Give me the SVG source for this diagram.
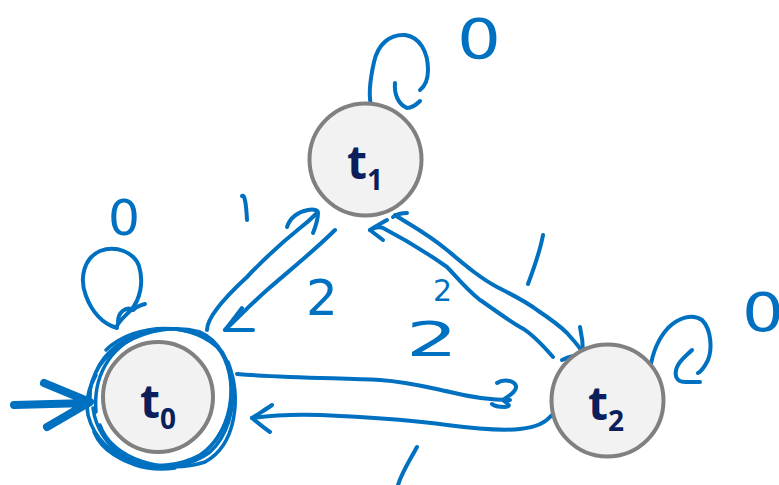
<svg xmlns="http://www.w3.org/2000/svg" width="779" height="485" viewBox="0 0 779 485">
  <style>
    .node { fill: #f2f2f2; stroke: #808080; stroke-width: 4; }
    .name { fill: #0b1f5c; font-family: "Open Sans", "Liberation Sans", sans-serif; font-weight: bold; }
    .ink { fill: none; stroke: #0070c0; stroke-width: 4; stroke-linecap: round; stroke-linejoin: round; }
    .scrib { fill: none; stroke: #0070c0; stroke-width: 3.5; stroke-linecap: round; }
    .lbl { fill: #0070c0; font-family: "DejaVu Sans", "Liberation Sans", sans-serif; }
  </style>
  <rect width="779" height="485" fill="#ffffff"/>

  <!-- hand-drawn connectors and loops -->
  <g id="connectors">
    <!-- start arrow into t0 -->
    <path class="ink" style="stroke-width:8" d="M14 405 L88 403 M44 383 L90 402 L47 427"/>

    <!-- accepting-state scribble around t0 -->
    <path class="scrib" d="M96 372 C112 332 175 315 212 342 C240 365 238 430 200 455 C158 478 100 462 88 415 C85 398 90 385 96 375"/>
    <path class="scrib" d="M90 398 C88 352 150 318 200 332 C238 348 245 420 210 452 C175 478 110 470 94 432"/>
    <path class="scrib" d="M106 350 C135 322 195 320 222 352 C242 385 232 440 190 462 C140 480 98 448 93 408"/>
    <path class="scrib" d="M100 425 C112 460 165 475 205 462 C236 445 242 398 228 362"/>
    <path class="scrib" d="M96 412 C93 378 108 348 142 334"/>
    <path class="scrib" d="M100 440 C118 465 150 472 175 468"/>

    <!-- t0 self loop -->
    <path class="ink" d="M117 328 C103 324 92 312 86 296 C79 278 84 258 100 251 C116 245 134 252 139 266 C144 282 140 300 131 310 C125 316 119 321 117 326"/>
    <path class="ink" d="M118 322 C118 312 126 306 133 310 C137 306 141 305 145 304"/>

    <!-- t1 self loop -->
    <path class="ink" d="M372 108 C368 98 370 80 374 62 C378 44 390 34 405 35 C420 37 428 52 428 70 C428 80 425 86 420 90"/>
    <path class="ink" d="M395 83 C394 94 398 104 407 108 C412 108 417 104 420 101"/>

    <!-- t2 self loop -->
    <path class="ink" d="M650 370 C652 355 657 340 668 328 C678 318 692 313 702 320 C712 330 712 350 708 360 C704 368 700 372 698 373"/>
    <path class="ink" d="M692 350 C686 356 680 360 677 367 C674 375 676 382 685 382 C690 382 695 382 700 382"/>

    <!-- t0 -> t1 -->
    <path class="ink" d="M207 330 C207 318 222 300 247 277 C265 258 285 240 300 228 C308 222 313 217 317 213"/>
    <path class="ink" d="M287 227 C290 218 298 212 308 210 C314 209 318 210 318 213 C318 220 315 228 313 233"/>

    <!-- t1 -> t0 -->
    <path class="ink" d="M335 230 C315 250 290 270 267 290 C250 305 238 318 225 330"/>
    <path class="ink" d="M242 308 C236 316 230 324 225 330 C234 330 244 330 253 330"/>

    <!-- t1 -> t2 (upper stroke) -->
    <path class="ink" d="M395 215 C410 225 425 232 447 250 C465 265 480 278 497 287 C515 296 528 303 537 310 C552 320 562 328 567 333 C573 340 579 346 583 353"/>
    <path class="ink" d="M580 327 C582 336 583 345 583 353 M562 360 C570 356 580 354 587 355"/>

    <!-- t2 -> t1 (lower stroke) -->
    <path class="ink" d="M553 357 C540 342 530 332 520 327 C505 318 492 308 480 300 C465 288 455 275 447 267 C430 255 410 242 383 228 C378 226 374 228 370 230"/>
    <path class="ink" d="M370 230 C376 226 382 223 387 220 M370 230 C375 234 379 237 383 240 M393 217 C397 214 402 213 407 213"/>

    <!-- t0 -> t2 -->
    <path class="ink" d="M237 374 C290 378 340 378 380 380 C410 382 430 388 450 392 C470 397 490 400 510 400"/>
    <path class="ink" d="M497 383 C503 379 514 380 516 386 C517 392 508 396 503 400 C508 404 512 406 505 407 C500 407 494 406 492 404"/>

    <!-- t2 -> t0 -->
    <path class="ink" d="M552 415 C545 423 537 427 520 429 C500 431 470 428 447 425 C410 420 380 418 340 416 C310 414 280 414 252 418"/>
    <path class="ink" d="M272 405 C265 410 258 414 252 418 C258 423 264 428 270 432"/>
  </g>

  <!-- transition labels -->
  <g id="labels">
    <text class="lbl" x="457" y="58" font-size="56" textLength="44" lengthAdjust="spacingAndGlyphs">0</text>
    <text class="lbl" x="108" y="235" font-size="50" textLength="32" lengthAdjust="spacingAndGlyphs">0</text>
    <text class="lbl" x="742" y="331" font-size="54" textLength="42" lengthAdjust="spacingAndGlyphs">0</text>
    <path class="ink" d="M242 196 C244 194 246 200 247 220"/>
    <path class="ink" d="M543 235 C540 252 534 268 528 284"/>
    <path class="ink" d="M417 447 C410 460 402 472 398 485"/>
    <text class="lbl" x="306" y="315" font-size="50">2</text>
    <text class="lbl" x="433" y="301" font-size="30">2</text>
    <text class="lbl" x="406" y="356" font-size="48" textLength="52" lengthAdjust="spacingAndGlyphs">2</text>
  </g>

  <!-- states -->
  <g id="t1">
    <circle class="node" cx="365.5" cy="159.5" r="56"/>
    <text class="name" x="347" y="179" font-size="46">t<tspan font-size="28" dy="11">1</tspan></text>
  </g>
  <g id="t0">
    <circle class="node" cx="158" cy="397" r="55"/>
    <text class="name" x="140" y="418" font-size="46">t<tspan font-size="28" dy="11">0</tspan></text>
  </g>
  <g id="t2">
    <circle class="node" cx="607.5" cy="400.5" r="56"/>
    <text class="name" x="588" y="420" font-size="46">t<tspan font-size="28" dy="11">2</tspan></text>
  </g>
</svg>
